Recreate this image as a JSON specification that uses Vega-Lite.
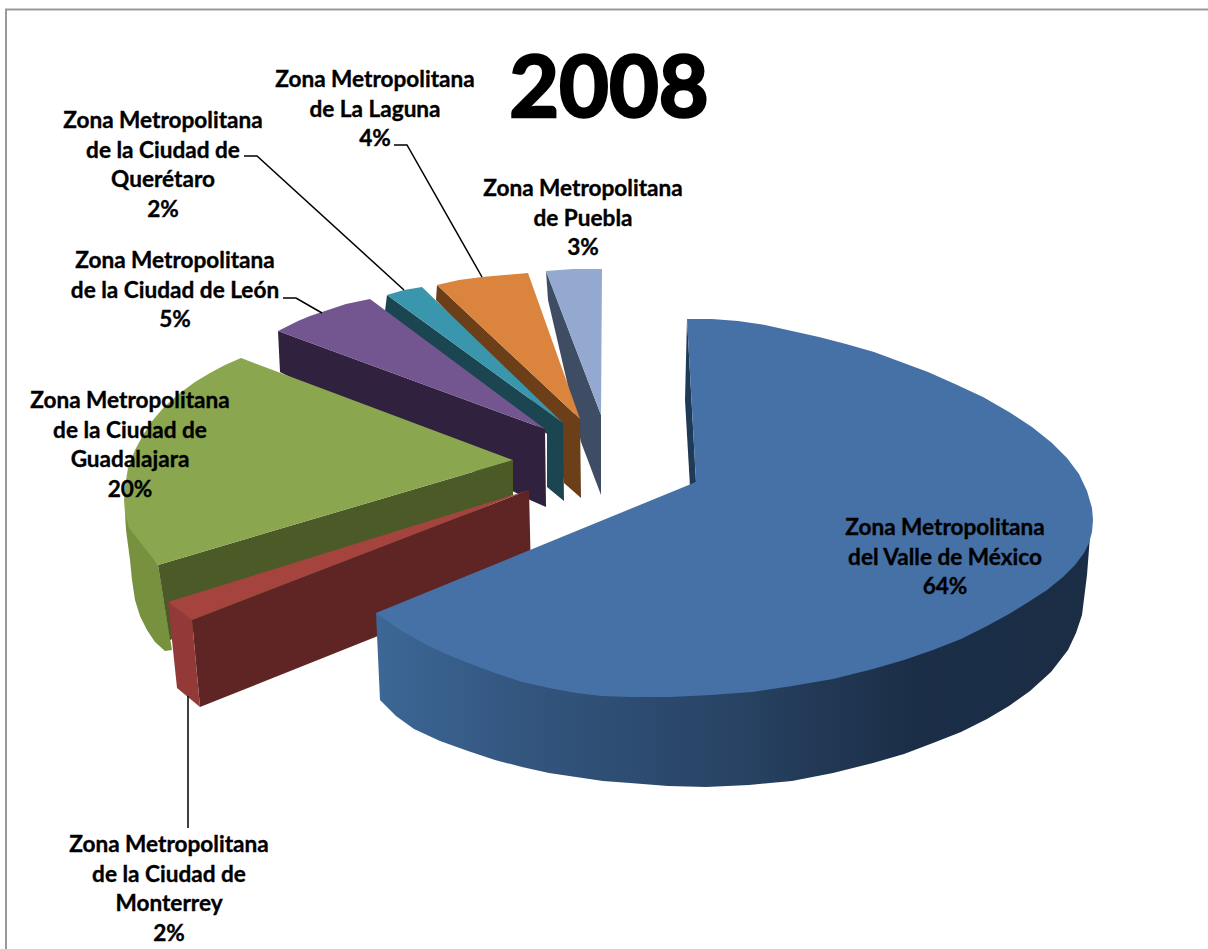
{
  "$schema": "https://vega.github.io/schema/vega-lite/v6.json",
  "width": 1208,
  "height": 949,
  "padding": 0,
  "autosize": {"type": "none"},
  "background": "white",
  "config": {"view": {"stroke": null}},
  "datasets": {
    "slices": [
      {"name": "Zona Metropolitana\ndel Valle de México\n64%", "share": 64, "lx": 945, "ly": 517},
      {"name": "Zona Metropolitana\nde la Ciudad de\nMonterrey\n2%", "share": 2, "lx": 169, "ly": 834},
      {"name": "Zona Metropolitana\nde la Ciudad de\nGuadalajara\n20%", "share": 20, "lx": 130, "ly": 390},
      {"name": "Zona Metropolitana\nde la Ciudad de León\n5%", "share": 5, "lx": 175, "ly": 250},
      {"name": "Zona Metropolitana\nde la Ciudad de\nQuerétaro\n2%", "share": 2, "lx": 163, "ly": 110},
      {"name": "Zona Metropolitana\nde La Laguna\n4%", "share": 4, "lx": 375, "ly": 69},
      {"name": "Zona Metropolitana\nde Puebla\n3%", "share": 3, "lx": 583, "ly": 178}
    ],
    "outlines": [
      {"part": "pueblaWall", "ord": 1, "x": 546, "y": 271},
      {"part": "pueblaWall", "ord": 2, "x": 601, "y": 415},
      {"part": "pueblaWall", "ord": 3, "x": 601, "y": 495},
      {"part": "pueblaWall", "ord": 4, "x": 581, "y": 442},
      {"part": "pueblaWall", "ord": 5, "x": 548, "y": 300},
      {"part": "pueblaTop", "ord": 1, "x": 546, "y": 271},
      {"part": "pueblaTop", "ord": 2, "x": 573, "y": 269},
      {"part": "pueblaTop", "ord": 3, "x": 602, "y": 269},
      {"part": "pueblaTop", "ord": 4, "x": 601, "y": 415},

      {"part": "lagunaWall", "ord": 1, "x": 437, "y": 285},
      {"part": "lagunaWall", "ord": 2, "x": 580, "y": 419},
      {"part": "lagunaWall", "ord": 3, "x": 581, "y": 498},
      {"part": "lagunaWall", "ord": 4, "x": 564, "y": 483},
      {"part": "lagunaWall", "ord": 5, "x": 556, "y": 426},
      {"part": "lagunaWall", "ord": 6, "x": 436, "y": 300},
      {"part": "lagunaTop", "ord": 1, "x": 437, "y": 285},
      {"part": "lagunaTop", "ord": 2, "x": 459, "y": 280},
      {"part": "lagunaTop", "ord": 3, "x": 482, "y": 277},
      {"part": "lagunaTop", "ord": 4, "x": 528, "y": 273},
      {"part": "lagunaTop", "ord": 5, "x": 580, "y": 419},

      {"part": "queretaroWall", "ord": 1, "x": 387, "y": 295},
      {"part": "queretaroWall", "ord": 2, "x": 563, "y": 423},
      {"part": "queretaroWall", "ord": 3, "x": 564, "y": 501},
      {"part": "queretaroWall", "ord": 4, "x": 547, "y": 487},
      {"part": "queretaroWall", "ord": 5, "x": 547, "y": 434},
      {"part": "queretaroWall", "ord": 6, "x": 385, "y": 311},
      {"part": "queretaroTop", "ord": 1, "x": 387, "y": 295},
      {"part": "queretaroTop", "ord": 2, "x": 404, "y": 290},
      {"part": "queretaroTop", "ord": 3, "x": 422, "y": 287},
      {"part": "queretaroTop", "ord": 4, "x": 563, "y": 423},

      {"part": "leonWall", "ord": 1, "x": 278, "y": 331},
      {"part": "leonWall", "ord": 2, "x": 545, "y": 429},
      {"part": "leonWall", "ord": 3, "x": 546, "y": 507},
      {"part": "leonWall", "ord": 4, "x": 530, "y": 500},
      {"part": "leonWall", "ord": 5, "x": 280, "y": 372},
      {"part": "leonTop", "ord": 1, "x": 278, "y": 331},
      {"part": "leonTop", "ord": 2, "x": 288, "y": 326},
      {"part": "leonTop", "ord": 3, "x": 298, "y": 321},
      {"part": "leonTop", "ord": 4, "x": 310, "y": 316},
      {"part": "leonTop", "ord": 5, "x": 322, "y": 312},
      {"part": "leonTop", "ord": 6, "x": 346, "y": 304},
      {"part": "leonTop", "ord": 7, "x": 370, "y": 299},
      {"part": "leonTop", "ord": 8, "x": 545, "y": 429},

      {"part": "guadalajaraSide", "ord": 1, "x": 125, "y": 513},
      {"part": "guadalajaraSide", "ord": 2, "x": 158, "y": 565},
      {"part": "guadalajaraSide", "ord": 3, "x": 172, "y": 650},
      {"part": "guadalajaraSide", "ord": 4, "x": 165, "y": 651},
      {"part": "guadalajaraSide", "ord": 5, "x": 155, "y": 642},
      {"part": "guadalajaraSide", "ord": 6, "x": 147, "y": 630},
      {"part": "guadalajaraSide", "ord": 7, "x": 140, "y": 616},
      {"part": "guadalajaraSide", "ord": 8, "x": 135, "y": 600},
      {"part": "guadalajaraSide", "ord": 9, "x": 132, "y": 580},
      {"part": "guadalajaraSide", "ord": 10, "x": 130, "y": 560},
      {"part": "guadalajaraSide", "ord": 11, "x": 128, "y": 545},
      {"part": "guadalajaraSide", "ord": 12, "x": 126, "y": 530},
      {"part": "guadalajaraWall", "ord": 1, "x": 158, "y": 565},
      {"part": "guadalajaraWall", "ord": 2, "x": 513, "y": 460},
      {"part": "guadalajaraWall", "ord": 3, "x": 513, "y": 495},
      {"part": "guadalajaraWall", "ord": 4, "x": 170, "y": 640},
      {"part": "guadalajaraTop", "ord": 1, "x": 241, "y": 358},
      {"part": "guadalajaraTop", "ord": 2, "x": 225, "y": 365},
      {"part": "guadalajaraTop", "ord": 3, "x": 210, "y": 373},
      {"part": "guadalajaraTop", "ord": 4, "x": 195, "y": 382},
      {"part": "guadalajaraTop", "ord": 5, "x": 180, "y": 393},
      {"part": "guadalajaraTop", "ord": 6, "x": 165, "y": 406},
      {"part": "guadalajaraTop", "ord": 7, "x": 153, "y": 420},
      {"part": "guadalajaraTop", "ord": 8, "x": 143, "y": 435},
      {"part": "guadalajaraTop", "ord": 9, "x": 135, "y": 450},
      {"part": "guadalajaraTop", "ord": 10, "x": 128, "y": 468},
      {"part": "guadalajaraTop", "ord": 11, "x": 125, "y": 487},
      {"part": "guadalajaraTop", "ord": 12, "x": 124, "y": 500},
      {"part": "guadalajaraTop", "ord": 13, "x": 125, "y": 513},
      {"part": "guadalajaraTop", "ord": 14, "x": 129, "y": 528},
      {"part": "guadalajaraTop", "ord": 15, "x": 158, "y": 565},
      {"part": "guadalajaraTop", "ord": 16, "x": 513, "y": 460},

      {"part": "monterreyWall", "ord": 1, "x": 192, "y": 620},
      {"part": "monterreyWall", "ord": 2, "x": 529, "y": 490},
      {"part": "monterreyWall", "ord": 3, "x": 531, "y": 575},
      {"part": "monterreyWall", "ord": 4, "x": 200, "y": 707},
      {"part": "monterreySide", "ord": 1, "x": 168, "y": 602},
      {"part": "monterreySide", "ord": 2, "x": 192, "y": 620},
      {"part": "monterreySide", "ord": 3, "x": 200, "y": 707},
      {"part": "monterreySide", "ord": 4, "x": 177, "y": 688},
      {"part": "monterreyTop", "ord": 1, "x": 168, "y": 602},
      {"part": "monterreyTop", "ord": 2, "x": 529, "y": 490},
      {"part": "monterreyTop", "ord": 3, "x": 192, "y": 620},

      {"part": "valleInner", "ord": 1, "x": 687, "y": 319},
      {"part": "valleInner", "ord": 2, "x": 685, "y": 400},
      {"part": "valleInner", "ord": 3, "x": 690, "y": 487},
      {"part": "valleInner", "ord": 4, "x": 696, "y": 482},

      {"part": "valleTop", "ord": 1, "x": 687, "y": 319},
      {"part": "valleTop", "ord": 2, "x": 712, "y": 319},
      {"part": "valleTop", "ord": 3, "x": 738, "y": 321},
      {"part": "valleTop", "ord": 4, "x": 765, "y": 325},
      {"part": "valleTop", "ord": 5, "x": 792, "y": 331},
      {"part": "valleTop", "ord": 6, "x": 819, "y": 337},
      {"part": "valleTop", "ord": 7, "x": 846, "y": 344},
      {"part": "valleTop", "ord": 8, "x": 874, "y": 352},
      {"part": "valleTop", "ord": 9, "x": 901, "y": 362},
      {"part": "valleTop", "ord": 10, "x": 928, "y": 372},
      {"part": "valleTop", "ord": 11, "x": 955, "y": 384},
      {"part": "valleTop", "ord": 12, "x": 983, "y": 397},
      {"part": "valleTop", "ord": 13, "x": 1009, "y": 412},
      {"part": "valleTop", "ord": 14, "x": 1032, "y": 427},
      {"part": "valleTop", "ord": 15, "x": 1052, "y": 443},
      {"part": "valleTop", "ord": 16, "x": 1067, "y": 458},
      {"part": "valleTop", "ord": 17, "x": 1079, "y": 474},
      {"part": "valleTop", "ord": 18, "x": 1087, "y": 491},
      {"part": "valleTop", "ord": 19, "x": 1092, "y": 508},
      {"part": "valleTop", "ord": 20, "x": 1093, "y": 520},
      {"part": "valleTop", "ord": 21, "x": 1092, "y": 532},
      {"part": "valleTop", "ord": 22, "x": 1089, "y": 543},
      {"part": "valleTop", "ord": 23, "x": 1084, "y": 553},
      {"part": "valleTop", "ord": 24, "x": 1075, "y": 565},
      {"part": "valleTop", "ord": 25, "x": 1063, "y": 577},
      {"part": "valleTop", "ord": 26, "x": 1047, "y": 590},
      {"part": "valleTop", "ord": 27, "x": 1030, "y": 601},
      {"part": "valleTop", "ord": 28, "x": 1009, "y": 614},
      {"part": "valleTop", "ord": 29, "x": 987, "y": 626},
      {"part": "valleTop", "ord": 30, "x": 961, "y": 639},
      {"part": "valleTop", "ord": 31, "x": 933, "y": 650},
      {"part": "valleTop", "ord": 32, "x": 904, "y": 660},
      {"part": "valleTop", "ord": 33, "x": 873, "y": 669},
      {"part": "valleTop", "ord": 34, "x": 833, "y": 679},
      {"part": "valleTop", "ord": 35, "x": 792, "y": 686},
      {"part": "valleTop", "ord": 36, "x": 752, "y": 692},
      {"part": "valleTop", "ord": 37, "x": 711, "y": 695},
      {"part": "valleTop", "ord": 38, "x": 670, "y": 697},
      {"part": "valleTop", "ord": 39, "x": 630, "y": 697},
      {"part": "valleTop", "ord": 40, "x": 602, "y": 696},
      {"part": "valleTop", "ord": 41, "x": 576, "y": 693},
      {"part": "valleTop", "ord": 42, "x": 549, "y": 688},
      {"part": "valleTop", "ord": 43, "x": 522, "y": 682},
      {"part": "valleTop", "ord": 44, "x": 495, "y": 673},
      {"part": "valleTop", "ord": 45, "x": 468, "y": 663},
      {"part": "valleTop", "ord": 46, "x": 446, "y": 654},
      {"part": "valleTop", "ord": 47, "x": 425, "y": 644},
      {"part": "valleTop", "ord": 48, "x": 400, "y": 630},
      {"part": "valleTop", "ord": 49, "x": 376, "y": 613},
      {"part": "valleTop", "ord": 50, "x": 696, "y": 482},

      {"part": "valleSide", "ord": 1, "x": 376, "y": 613},
      {"part": "valleSide", "ord": 2, "x": 380, "y": 700},
      {"part": "valleSide", "ord": 3, "x": 396, "y": 716},
      {"part": "valleSide", "ord": 4, "x": 414, "y": 729},
      {"part": "valleSide", "ord": 5, "x": 440, "y": 741},
      {"part": "valleSide", "ord": 6, "x": 468, "y": 751},
      {"part": "valleSide", "ord": 7, "x": 495, "y": 760},
      {"part": "valleSide", "ord": 8, "x": 522, "y": 767},
      {"part": "valleSide", "ord": 9, "x": 549, "y": 773},
      {"part": "valleSide", "ord": 10, "x": 576, "y": 777},
      {"part": "valleSide", "ord": 11, "x": 603, "y": 781},
      {"part": "valleSide", "ord": 12, "x": 630, "y": 783},
      {"part": "valleSide", "ord": 13, "x": 668, "y": 786},
      {"part": "valleSide", "ord": 14, "x": 706, "y": 787},
      {"part": "valleSide", "ord": 15, "x": 749, "y": 785},
      {"part": "valleSide", "ord": 16, "x": 792, "y": 781},
      {"part": "valleSide", "ord": 17, "x": 833, "y": 773},
      {"part": "valleSide", "ord": 18, "x": 873, "y": 763},
      {"part": "valleSide", "ord": 19, "x": 904, "y": 754},
      {"part": "valleSide", "ord": 20, "x": 933, "y": 743},
      {"part": "valleSide", "ord": 21, "x": 961, "y": 732},
      {"part": "valleSide", "ord": 22, "x": 987, "y": 719},
      {"part": "valleSide", "ord": 23, "x": 1009, "y": 706},
      {"part": "valleSide", "ord": 24, "x": 1030, "y": 691},
      {"part": "valleSide", "ord": 25, "x": 1051, "y": 672},
      {"part": "valleSide", "ord": 26, "x": 1068, "y": 650},
      {"part": "valleSide", "ord": 27, "x": 1076, "y": 633},
      {"part": "valleSide", "ord": 28, "x": 1082, "y": 615},
      {"part": "valleSide", "ord": 29, "x": 1087, "y": 575},
      {"part": "valleSide", "ord": 30, "x": 1090, "y": 536},
      {"part": "valleSide", "ord": 31, "x": 1000, "y": 500},
      {"part": "valleSide", "ord": 32, "x": 600, "y": 550}
    ],
    "leaders": [
      {"to": "Querétaro", "ord": 1, "x": 244, "y": 156},
      {"to": "Querétaro", "ord": 2, "x": 257, "y": 156},
      {"to": "Querétaro", "ord": 3, "x": 404, "y": 290},
      {"to": "La Laguna", "ord": 1, "x": 394, "y": 145},
      {"to": "La Laguna", "ord": 2, "x": 407, "y": 145},
      {"to": "La Laguna", "ord": 3, "x": 482, "y": 277},
      {"to": "León", "ord": 1, "x": 283, "y": 298},
      {"to": "León", "ord": 2, "x": 296, "y": 298},
      {"to": "León", "ord": 3, "x": 322, "y": 313},
      {"to": "Monterrey", "ord": 1, "x": 188, "y": 696},
      {"to": "Monterrey", "ord": 2, "x": 188, "y": 828}
    ],
    "frame": [
      {"ord": 1, "x": 1208, "y": 9.5},
      {"ord": 2, "x": 6, "y": 9.5},
      {"ord": 3, "x": 6, "y": 949}
    ],
    "titles": [{"year": "2008", "tx": 609, "ty": 91}]
  },
  "layer": [
    {
      "data": {"name": "frame"},
      "mark": {"type": "line", "color": "#999999", "strokeWidth": 2},
      "encoding": {
        "x": {"field": "x", "type": "quantitative", "scale": {"domain": [0, 1208]}, "axis": null},
        "y": {"field": "y", "type": "quantitative", "scale": {"domain": [949, 0]}, "axis": null},
        "order": {"field": "ord"}
      }
    },
    {
      "data": {"name": "outlines"},
      "transform": [{"filter": "indexof(['valleSide','valleTop','valleInner'], datum.part) < 0"}],
      "mark": {"type": "line", "filled": true, "strokeWidth": 0},
      "encoding": {
        "x": {"field": "x", "type": "quantitative", "scale": {"domain": [0, 1208]}, "axis": null},
        "y": {"field": "y", "type": "quantitative", "scale": {"domain": [949, 0]}, "axis": null},
        "order": {"field": "ord"},
        "fill": {
          "field": "part",
          "type": "nominal",
          "legend": null,
          "scale": {
            "domain": ["pueblaWall", "pueblaTop", "lagunaWall", "lagunaTop", "queretaroWall", "queretaroTop", "leonWall", "leonTop", "guadalajaraSide", "guadalajaraWall", "guadalajaraTop", "monterreyWall", "monterreySide", "monterreyTop", "valleInner", "valleTop"],
            "range": ["#3f4d64", "#93a9cf", "#6c3f19", "#db843d", "#1a4551", "#3a96ad", "#30213f", "#735590", "#77913e", "#4b5a27", "#8aa64e", "#5f2524", "#933a38", "#a5433f", "#1f3a56", "#4571a6"]
          }
        }
      }
    },
    {
      "data": {"name": "outlines"},
      "transform": [{"filter": "datum.part === 'valleSide'"}],
      "mark": {
        "type": "line",
        "filled": true,
        "strokeWidth": 0,
        "fill": {
          "gradient": "linear",
          "x1": 0, "y1": 0, "x2": 1, "y2": 0,
          "stops": [
            {"offset": 0, "color": "#3d6797"},
            {"offset": 0.2, "color": "#33567f"},
            {"offset": 0.5, "color": "#284364"},
            {"offset": 0.75, "color": "#1b2e47"},
            {"offset": 1, "color": "#1a2d45"}
          ]
        }
      },
      "encoding": {
        "x": {"field": "x", "type": "quantitative", "scale": {"domain": [0, 1208]}, "axis": null},
        "y": {"field": "y", "type": "quantitative", "scale": {"domain": [949, 0]}, "axis": null},
        "order": {"field": "ord"}
      }
    },
    {
      "data": {"name": "outlines"},
      "transform": [{"filter": "datum.part === 'valleInner' || datum.part === 'valleTop'"}],
      "mark": {"type": "line", "filled": true, "strokeWidth": 0},
      "encoding": {
        "x": {"field": "x", "type": "quantitative", "scale": {"domain": [0, 1208]}, "axis": null},
        "y": {"field": "y", "type": "quantitative", "scale": {"domain": [949, 0]}, "axis": null},
        "order": {"field": "ord"},
        "fill": {"field": "part", "type": "nominal", "legend": null}
      }
    },
    {
      "data": {"name": "leaders"},
      "mark": {"type": "line", "color": "#000000", "strokeWidth": 1.5},
      "encoding": {
        "x": {"field": "x", "type": "quantitative", "scale": {"domain": [0, 1208]}, "axis": null},
        "y": {"field": "y", "type": "quantitative", "scale": {"domain": [949, 0]}, "axis": null},
        "detail": {"field": "to"},
        "order": {"field": "ord"}
      }
    },
    {
      "data": {"name": "slices"},
      "mark": {"type": "text", "font": "Lato", "fontWeight": "bold", "fontSize": 22.6, "lineHeight": 29.6, "lineBreak": "\n", "align": "center", "baseline": "top", "color": "#000000", "stroke": "#000000", "strokeWidth": 0.35},
      "encoding": {
        "x": {"field": "lx", "type": "quantitative", "scale": {"domain": [0, 1208]}, "axis": null},
        "y": {"field": "ly", "type": "quantitative", "scale": {"domain": [949, 0]}, "axis": null},
        "text": {"field": "name"}
      }
    },
    {
      "data": {"name": "titles"},
      "mark": {"type": "text", "font": "Lato", "fontWeight": "bold", "fontSize": 86, "align": "center", "baseline": "middle", "color": "#000000", "stroke": "#000000", "strokeWidth": 2.5},
      "encoding": {
        "x": {"field": "tx", "type": "quantitative", "scale": {"domain": [0, 1208]}, "axis": null},
        "y": {"field": "ty", "type": "quantitative", "scale": {"domain": [949, 0]}, "axis": null},
        "text": {"field": "year"}
      }
    }
  ]
}
